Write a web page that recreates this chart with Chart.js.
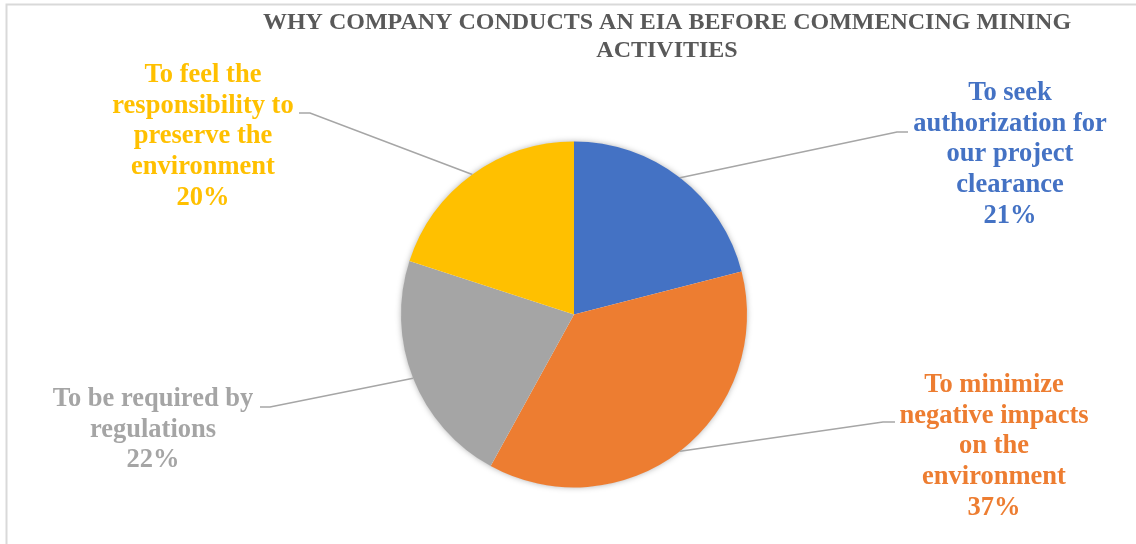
<!DOCTYPE html>
<html>
<head>
<meta charset="utf-8">
<script src="https://cdn.jsdelivr.net/npm/chart.js@4.4.0/dist/chart.umd.min.js"></script>
<style>
  html, body { margin: 0; padding: 0; background: #ffffff; }
  #wrap { width: 1136px; height: 544px; position: relative; }
</style>
</head>
<body>
<div id="wrap"><canvas id="c" width="1136" height="544"></canvas></div>
<script>
// ---- data ----
const categories = [
  "To seek authorization for our project clearance",
  "To minimize negative impacts on the environment",
  "To be required by regulations",
  "To feel the responsibility to preserve the environment"
];
const values = [21, 37, 22, 20];
const labelLines = [
  ["To seek", "authorization for", "our project", "clearance"],
  ["To minimize", "negative impacts", "on the", "environment"],
  ["To be required by", "regulations"],
  ["To feel the", "responsibility to", "preserve the", "environment"]
];
const titleLines = ["WHY COMPANY CONDUCTS AN EIA BEFORE COMMENCING MINING", "ACTIVITIES"];

// ---- styles ----
const sliceColors = ["#4472C4", "#ED7D31", "#A5A5A5", "#FFC000"];
// label block placement (centre x, first line y) and leader attach points
const labelLayout = [
  { cx: 1010, y0: 93,  ax: 908, ay: 132, bx: 897 },
  { cx: 994,  y0: 385, ax: 895, ay: 422, bx: 883 },
  { cx: 153,  y0: 399, ax: 260, ay: 407, bx: 270 },
  { cx: 203,  y0: 75,  ax: 299, ay: 113, bx: 310 }
];

const decorPlugin = {
  id: 'decor',
  beforeDraw(chart) {
    const ctx = chart.ctx;
    ctx.save();
    ctx.fillStyle = '#ffffff';
    ctx.fillRect(0, 0, chart.width, chart.height);
    ctx.strokeStyle = '#D9D9D9';
    ctx.lineWidth = 2;
    ctx.strokeRect(6.5, 4.5, 1400, 800);
    // title
    ctx.fillStyle = '#595959';
    ctx.font = 'bold 24px "Liberation Serif", "Times New Roman", serif';
    ctx.textAlign = 'center';
    ctx.textBaseline = 'middle';
    titleLines.forEach((t, i) => ctx.fillText(t, 667, 23 + i * 28));
    ctx.restore();
  },
  beforeDatasetsDraw(chart) {
    const arc = chart.getDatasetMeta(0).data[0];
    if (!arc) return;
    const ctx = chart.ctx;
    ctx.save();
    ctx.shadowColor = 'rgba(0,0,0,0.35)';
    ctx.shadowBlur = 6;
    ctx.shadowOffsetX = 0;
    ctx.shadowOffsetY = 0;
    ctx.fillStyle = '#ffffff';
    ctx.beginPath();
    ctx.arc(arc.x, arc.y, arc.outerRadius - 0.5, 0, Math.PI * 2);
    ctx.fill();
    ctx.restore();
  },
  afterDatasetsDraw(chart) {
    const ctx = chart.ctx;
    const meta = chart.getDatasetMeta(0);
    ctx.save();
    meta.data.forEach((arc, i) => {
      const L = labelLayout[i];
      const mid = (arc.startAngle + arc.endAngle) / 2;
      const px = arc.x + Math.cos(mid) * arc.outerRadius;
      const py = arc.y + Math.sin(mid) * arc.outerRadius;
      // leader line
      ctx.strokeStyle = '#A6A6A6';
      ctx.lineWidth = 1.6;
      ctx.beginPath();
      ctx.moveTo(px, py);
      ctx.lineTo(L.bx, L.ay);
      ctx.lineTo(L.ax, L.ay);
      ctx.stroke();
      // label text
      ctx.fillStyle = sliceColors[i];
      ctx.font = 'bold 26.5px "Liberation Serif", "Times New Roman", serif';
      ctx.textAlign = 'center';
      ctx.textBaseline = 'middle';
      const lines = labelLines[i].concat([values[i] + '%']);
      lines.forEach((t, k) => ctx.fillText(t, L.cx, L.y0 + k * 30.8));
    });
    ctx.restore();
  }
};

new Chart(document.getElementById('c'), {
  type: 'pie',
  data: {
    labels: categories,
    datasets: [{
      data: values,
      backgroundColor: sliceColors,
      borderWidth: 0,
      hoverOffset: 0
    }]
  },
  options: {
    responsive: false,
    animation: false,
    devicePixelRatio: 1,
    layout: { padding: { left: 401, right: 389, top: 141, bottom: 56 } },
    plugins: {
      legend: { display: false },
      title: { display: false },
      tooltip: { enabled: false }
    }
  },
  plugins: [decorPlugin]
});
</script>
</body>
</html>
